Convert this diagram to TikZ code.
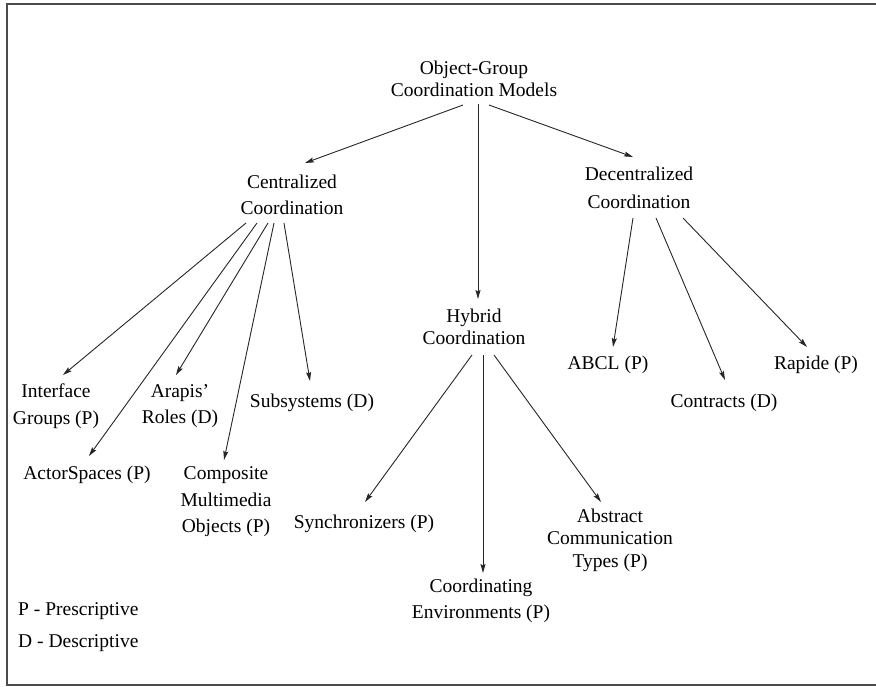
\documentclass[tikz,border=0pt]{standalone}
\usepackage{fontspec}
\setmainfont{Liberation Serif}
\usetikzlibrary{arrows.meta}
\begin{document}
\begin{tikzpicture}[x=1pt,y=-1pt,
  lbl/.style={align=center, inner sep=0pt, font=\fontsize{19.5}{26.5}\selectfont},
  tight/.style={lbl, font=\fontsize{19.5}{22.5}\selectfont},
  wide/.style={lbl, font=\fontsize{19.5}{28}\selectfont},
  legend/.style={anchor=west, inner sep=0pt, font=\fontsize{19.5}{24}\selectfont},
  arr/.style={line width=0.9pt, black!85, -{Stealth[length=9pt,width=5pt,inset=1.5pt]}},
  frame/.style={line width=1.3pt, black!70}]
\useasboundingbox (0,0) rectangle (876,686);
% outer frame (right side open)
\draw[frame] (876,4) -- (7,4) -- (7,685) -- (876,685);

% top level
\node[tight] (root) at (474,79) {Object-Group\\Coordination Models};
\node[lbl]  (cen) at (292,195) {Centralized\\Coordination};
\node[wide] (dec) at (639,188) {Decentralized\\Coordination};
\node[tight] (hyb) at (474,327) {Hybrid\\Coordination};

% centralized models
\node[lbl] (ifg) at (56,406) {Interface\\Groups (P)};
\node[lbl] (ara) at (180,406) {Arapis'\\Roles (D)};
\node[lbl] (act) at (87,475) {ActorSpaces (P)};
\node[lbl] (cmo) at (226,502) {Composite\\Multimedia\\Objects (P)};
\node[lbl] (sub) at (312,403) {Subsystems (D)};

% hybrid models
\node[lbl] (syn) at (364,524) {Synchronizers (P)};
\node[lbl] (coe) at (481,601) {Coordinating\\Environments (P)};
\node[tight] (abs) at (610,540) {Abstract\\Communication\\Types (P)};

% decentralized models
\node[lbl] (abcl) at (608,365) {ABCL (P)};
\node[lbl] (con) at (724,403) {Contracts (D)};
\node[lbl] (rap) at (816,365) {Rapide (P)};

% key
\node[legend] (keyp) at (18,611) {P - Prescriptive};
\node[legend] (keyd) at (18,643) {D - Descriptive};

% connectors
\draw[arr] ([shift={(-11,26)}]root.center) -- ([shift={(13,-32)}]cen.center);
\draw[arr] ([shift={(4,25)}]root.center) -- ([shift={(4,-28)}]hyb.center);
\draw[arr] ([shift={(15,26)}]root.center) -- ([shift={(-6,-31)}]dec.center);

\draw[arr] ([shift={(-46,28)}]cen.center) -- ([shift={(7,-31)}]ifg.center);
\draw[arr] ([shift={(-35,28)}]cen.center) -- ([shift={(2,-19)}]act.center);
\draw[arr] ([shift={(-24,28)}]cen.center) -- ([shift={(-4,-31)}]ara.center);
\draw[arr] ([shift={(-18,28)}]cen.center) -- ([shift={(-2,-42)}]cmo.center);
\draw[arr] ([shift={(-8,28)}]cen.center) -- ([shift={(-2,-22)}]sub.center);

\draw[arr] ([shift={(-2,28)}]hyb.center) -- ([shift={(1,-22)}]syn.center);
\draw[arr] ([shift={(9,28)}]hyb.center) -- ([shift={(2,-28)}]coe.center);
\draw[arr] ([shift={(20,28)}]hyb.center) -- ([shift={(-9,-38)}]abs.center);

\draw[arr] ([shift={(-6,30)}]dec.center) -- ([shift={(5,-18)}]abcl.center);
\draw[arr] ([shift={(17,30)}]dec.center) -- ([shift={(1,-23)}]con.center);
\draw[arr] ([shift={(44,30)}]dec.center) -- ([shift={(-9,-18)}]rap.center);
\end{tikzpicture}
\end{document}
